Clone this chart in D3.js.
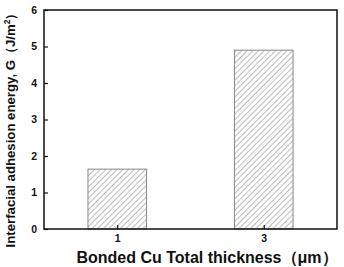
<!DOCTYPE html>
<html>
<head>
<meta charset="utf-8">
<script src="https://cdn.jsdelivr.net/npm/d3@7"></script>
<style>
  body { margin: 0; background: #fff; }
  text { font-family: "Liberation Sans", Arial, sans-serif; font-weight: bold; }
</style>
</head>
<body>
<svg id="chart" width="344" height="267"></svg>
<script>
const thickness = [1, 3];
const adhesion = [1.64, 4.9];
const xTicks = [1, 3];
const yTicks = [0, 1, 2, 3, 4, 5, 6];

const margin = { top: 10, right: 7, bottom: 38, left: 44 };
const W = 344, H = 267;
const width = W - margin.left - margin.right;
const height = H - margin.top - margin.bottom;

const svg = d3.select('#chart');

// hatch pattern
const defs = svg.append('defs');
const pat = defs.append('pattern')
    .attr('id', 'hatch')
    .attr('patternUnits', 'userSpaceOnUse')
    .attr('width', 4)
    .attr('height', 4)
    .attr('patternTransform', 'rotate(45)');
pat.append('line')
    .attr('x1', 0).attr('y1', 0)
    .attr('x2', 0).attr('y2', 4)
    .attr('stroke', '#777')
    .attr('stroke-width', 1);

const g = svg.append('g')
    .attr('transform', `translate(${margin.left},${margin.top})`);

const x = d3.scaleLinear().domain([0, 4]).range([0, width]);
const y = d3.scaleLinear().domain([0, 6]).range([height, 0]);

const barW = x(0.8) - x(0);

// bars
g.selectAll('rect.bar')
    .data(thickness)
    .enter()
    .append('rect')
    .attr('class', 'bar')
    .attr('x', (d) => x(d) - barW / 2)
    .attr('y', (d, i) => y(adhesion[i]))
    .attr('width', barW)
    .attr('height', (d, i) => y(0) - y(adhesion[i]))
    .attr('fill', 'url(#hatch)')
    .attr('stroke', '#888')
    .attr('stroke-width', 1);

// frame
g.append('rect')
    .attr('x', 0).attr('y', 0)
    .attr('width', width).attr('height', height)
    .attr('fill', 'none')
    .attr('stroke', '#111')
    .attr('stroke-width', 1.5);

// y axis
const yAxis = g.append('g')
    .call(d3.axisLeft(y).tickValues(yTicks).tickSize(-4).tickPadding(7).tickFormat(d3.format('d')));
yAxis.select('.domain').remove();
yAxis.selectAll('line').attr('stroke', '#111').attr('stroke-width', 1.2);
yAxis.selectAll('text')
    .attr('font-size', 10.5)
    .attr('font-weight', 'bold')
    .attr('fill', '#111');

// x axis
const xAxis = g.append('g')
    .attr('transform', `translate(0,${height})`)
    .call(d3.axisBottom(x).tickValues(xTicks).tickSize(-4).tickPadding(6).tickFormat(d3.format('d')));
xAxis.select('.domain').remove();
xAxis.selectAll('line').attr('stroke', '#111').attr('stroke-width', 1.2);
xAxis.selectAll('text')
    .attr('font-size', 10.5)
    .attr('font-weight', 'bold')
    .attr('fill', '#111');

// x title
svg.append('text')
    .attr('x', 207)
    .attr('y', 263)
    .attr('text-anchor', 'middle')
    .attr('font-size', 16)
    .attr('fill', '#111')
    .text('Bonded Cu Total thickness（μm）');

// y title
const yt = svg.append('text')
    .attr('transform', 'translate(15,127) rotate(-90)')
    .attr('text-anchor', 'middle')
    .attr('font-size', 13.2)
    .attr('fill', '#111');
yt.append('tspan').text('Interfacial adhesion energy, G（J/m');
yt.append('tspan').attr('dy', -5).attr('font-size', 8.5).text('2');
yt.append('tspan').attr('dy', 5).text('）');
</script>
</body>
</html>
